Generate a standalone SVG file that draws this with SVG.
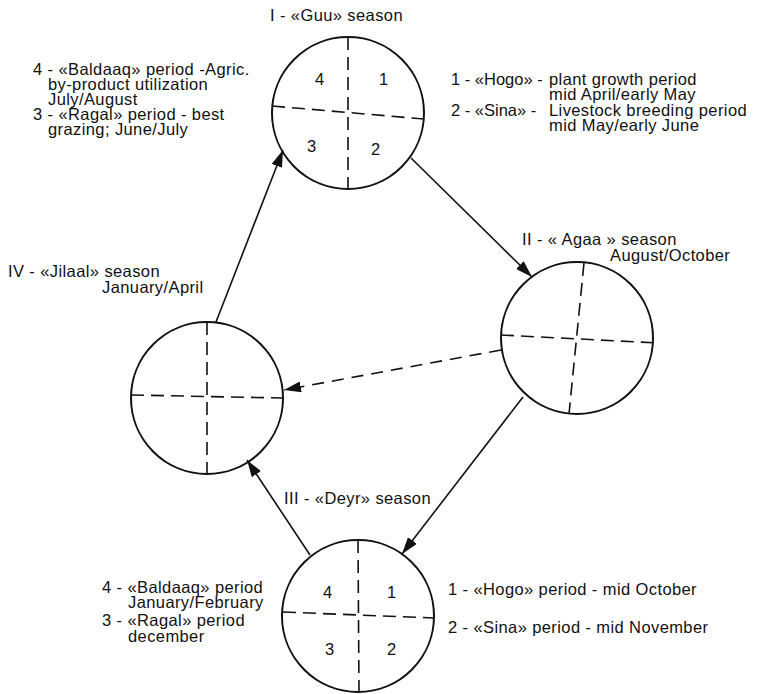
<svg xmlns="http://www.w3.org/2000/svg" width="760" height="694" viewBox="0 0 760 694">
<style>
text{font-family:"Liberation Sans",Arial,sans-serif;font-size:16.5px;letter-spacing:0.4px;fill:#111}
.t{letter-spacing:0}
.c{fill:none;stroke:#111;stroke-width:2}
.d{fill:none;stroke:#111;stroke-width:1.6;stroke-dasharray:13 7}
.a{fill:none;stroke:#111;stroke-width:1.6}
.ad{fill:none;stroke:#111;stroke-width:1.6;stroke-dasharray:12 8}
</style>
<defs>
<marker id="ah" markerWidth="18" markerHeight="11" refX="17" refY="5.5" orient="auto" markerUnits="userSpaceOnUse">
<path d="M0,0 L17,5.5 L0,11 z" fill="#111"/>
</marker>
</defs>
<rect width="760" height="694" fill="#fff"/>

<g id="guu">
<circle class="c" cx="348" cy="113" r="76"/>
<line class="d" x1="348" y1="37" x2="348" y2="189"/>
<line class="d" x1="272" y1="106" x2="424" y2="119"/>
<text x="315" y="85">4</text>
<text x="379" y="85">1</text>
<text x="307" y="152">3</text>
<text x="371" y="155">2</text>
<text x="270" y="21">I - «Guu» season</text>
<text x="33" y="75">4 - «Baldaaq» period -Agric.</text>
<text x="48" y="90">by-product utilization</text>
<text x="48" y="105">July/August</text>
<text x="33" y="120">3 - «Ragal» period - best</text>
<text x="48" y="135">grazing; June/July</text>
<text class="t" x="451" y="85">1 - «Hogo» -</text>
<text x="549" y="85">plant growth period</text>
<text x="549" y="100">mid April/early May</text>
<text class="t" x="451" y="116">2 - «Sina» -</text>
<text x="549" y="116">Livestock breeding period</text>
<text x="549" y="131">mid May/early June</text>
</g>

<g id="agaa">
<circle class="c" cx="577" cy="338" r="76"/>
<line class="d" x1="584" y1="263" x2="569" y2="414"/>
<line class="d" x1="501" y1="335" x2="658" y2="343"/>
<text x="522" y="245">II - « Agaa » season</text>
<text x="610" y="261">August/October</text>
</g>

<g id="jilaal">
<circle class="c" cx="207" cy="398" r="76"/>
<line class="d" x1="207" y1="322" x2="207" y2="474"/>
<line class="d" x1="131" y1="395" x2="283" y2="398"/>
<text x="8" y="277">IV - «Jilaal» season</text>
<text x="102" y="293">January/April</text>
</g>

<g id="deyr">
<circle class="c" cx="358" cy="616" r="76"/>
<line class="d" x1="358" y1="540" x2="359" y2="692"/>
<line class="d" x1="283" y1="612" x2="434" y2="618"/>
<text x="323" y="598">4</text>
<text x="387" y="598">1</text>
<text x="325" y="655">3</text>
<text x="387" y="655">2</text>
<text x="284" y="504">III - «Deyr» season</text>
<text x="102" y="593">4 - «Baldaaq» period</text>
<text x="128" y="608">January/February</text>
<text x="102" y="626">3 - «Ragal» period</text>
<text x="128" y="642">december</text>
<text x="448" y="595">1 - «Hogo» period - mid October</text>
<text x="448" y="633">2 - «Sina» period - mid November</text>
</g>

<g id="connectors">
<line class="a" x1="216" y1="322" x2="283" y2="150" marker-end="url(#ah)"/>
<line class="a" x1="411" y1="158" x2="532" y2="277" marker-end="url(#ah)"/>
<line class="ad" x1="501" y1="350" x2="284" y2="390" marker-end="url(#ah)"/>
<line class="a" x1="523" y1="397" x2="402" y2="554" marker-end="url(#ah)"/>
<line class="a" x1="310" y1="555" x2="247" y2="460" marker-end="url(#ah)"/>
</g>
</svg>
